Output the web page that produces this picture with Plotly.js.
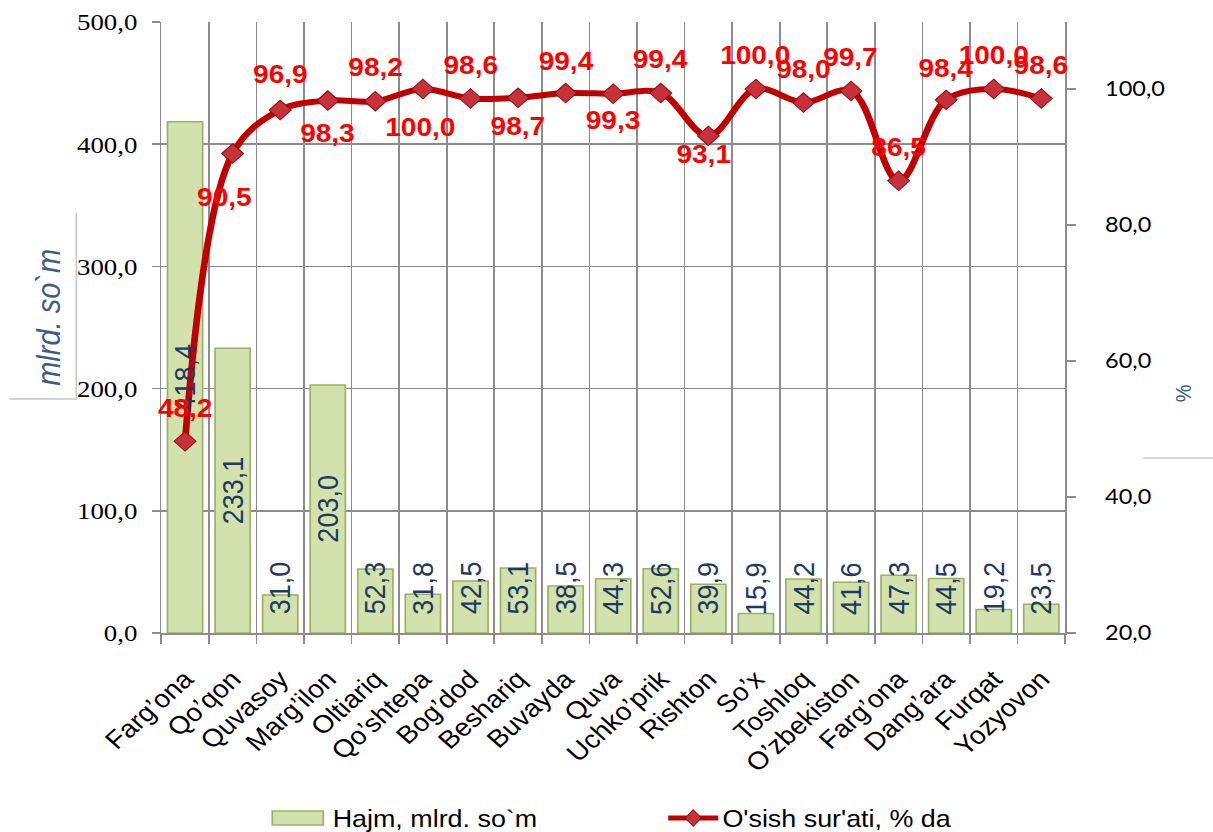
<!DOCTYPE html>
<html>
<head>
<meta charset="utf-8">
<script src="https://cdn.plot.ly/plotly-3.0.1.min.js"></script>
<style>
  html, body { margin: 0; padding: 0; background: #ffffff; overflow: hidden; }
  #wrap { width: 1213px; height: 832px; overflow: hidden; }
  /* the reference picture is horizontally stretched; reproduce that */
  #chart { width: 1083px; height: 832px; transform: scaleX(1.12); transform-origin: 0 0; }
</style>
</head>
<body>
<div id="wrap"><div id="chart"></div></div>
<script>
// ---- data ----
const categories = ['Farg’ona','Qo’qon','Quvasoy','Marg’ilon','Oltiariq','Qo’shtepa','Bog’dod','Beshariq','Buvayda','Quva','Uchko’prik','Rishton','So’x','Toshloq','O’zbekiston','Farg’ona','Dang’ara','Furqat','Yozyovon'];
const volume = [418.4, 233.1, 31.0, 203.0, 52.3, 31.8, 42.5, 53.1, 38.5, 44.3, 52.6, 39.9, 15.9, 44.2, 41.6, 47.3, 44.5, 19.2, 23.5];
const growth = [48.2, 90.5, 96.9, 98.3, 98.2, 100.0, 98.6, 98.7, 99.4, 99.3, 99.4, 93.1, 100.0, 98.0, 99.7, 86.5, 98.4, 100.0, 98.6];
const leftTicks = [0, 100, 200, 300, 400, 500];
const rightTicks = [20, 40, 60, 80, 100];
const seriesNames = ['Hajm, mlrd. so`m', "O'sish sur'ati, % da"];

// ---- label placement (style, not data) ----
const growthLabelDy = [33, -43, 36, -32, 34, -38, 34, -28, 32, -26, 34, -18, 34, 34, 34, 34, 32, 34, 34];
const growthLabelDx = [0, -7, 0, 0, 0, -2, 0, 0, 0, 0, 0, -4, 0, 0, 0, 0, 0, 0, 0];
const barLabelMin = 36.8; // keep short-bar labels inside the plot

const fmt = v => v.toFixed(1).replace('.', ',');
const idx = categories.map((c, i) => i);
const bounds = categories.concat(['']).map((c, i) => i - 0.5);

const SANS = "'Liberation Sans', Arial, sans-serif";
const SERIF = "'Liberation Serif', 'Times New Roman', serif";
const BAR_FILL = '#D3E2AD', BAR_EDGE = '#9DAE69';
const LINE_COL = '#C00000', MARK_FILL = '#C8303A', MARK_EDGE = '#8E0F14';

const traces = [
  {
    type: 'bar', name: seriesNames[0], x: idx, y: volume, yaxis: 'y',
    marker: { color: BAR_FILL, line: { color: BAR_EDGE, width: 1.5 } },
    hoverinfo: 'y', showlegend: false
  },
  {
    type: 'scatter', mode: 'lines+markers', name: seriesNames[1], x: idx, y: growth, yaxis: 'y2',
    line: { color: LINE_COL, width: 6, shape: 'spline', smoothing: 1 },
    marker: { symbol: 'diamond', size: 15, color: MARK_FILL, line: { color: MARK_EDGE, width: 1 } },
    hoverinfo: 'y', showlegend: false
  }
];

const annotations = [];
volume.forEach((v, i) => {
  annotations.push({
    x: i, y: Math.max(v / 2, barLabelMin), xref: 'x', yref: 'y',
    text: fmt(v), textangle: -90, showarrow: false,
    xanchor: 'center', yanchor: 'middle',
    font: { family: SANS, size: 27, color: '#1F3A60' }
  });
});
growth.forEach((g, i) => {
  annotations.push({
    x: i, y: g, xref: 'x', yref: 'y2',
    text: '<b>' + fmt(g) + '</b>', showarrow: false,
    xanchor: 'center', yanchor: 'middle',
    xshift: growthLabelDx[i], yshift: growthLabelDy[i],
    font: { family: SANS, size: 25, color: '#FF0000' }
  });
});
// axis titles
annotations.push({
  xref: 'paper', yref: 'paper', x: -0.125, y: 0.516, text: 'mlrd. so`m',
  textangle: -90, showarrow: false, xanchor: 'center', yanchor: 'middle',
  font: { family: SANS, size: 29, color: '#3F5C85', style: 'italic' }
});
annotations.push({
  xref: 'paper', yref: 'paper', x: 1.1305, y: 0.393, text: '%',
  textangle: -90, showarrow: false, xanchor: 'center', yanchor: 'middle',
  font: { family: SANS, size: 20, color: '#3F5C85' }
});
// legend texts
annotations.push({
  xref: 'paper', yref: 'paper', x: 0.1869, y: -0.3028, text: seriesNames[0],
  showarrow: false, xanchor: 'left', yanchor: 'middle',
  font: { family: SANS, size: 24, color: '#000000' }
});
annotations.push({
  xref: 'paper', yref: 'paper', x: 0.6184, y: -0.3028, text: seriesNames[1],
  showarrow: false, xanchor: 'left', yanchor: 'middle',
  font: { family: SANS, size: 24, color: '#000000' }
});

const dcx = 0.5885, dcy = -0.3028, dhw = 0.0088, dhh = 0.0135;
const shapes = [
  { type: 'path', xref: 'paper', yref: 'paper',
    path: 'M -0.1681 0.3830 L -0.0940 0.3830 L -0.0940 0.6874',
    line: { color: '#C8C8C8', width: 1.5 } },
  { type: 'line', xref: 'paper', yref: 'paper', x0: 1.0863, x1: 1.1637, y0: 0.2864, y1: 0.2864,
    line: { color: '#C8C8C8', width: 1.5 } },
  // legend swatches
  { type: 'rect', xref: 'paper', yref: 'paper', x0: 0.1228, x1: 0.1792, y0: -0.3142, y1: -0.2913,
    fillcolor: BAR_FILL, line: { color: BAR_EDGE, width: 1.5 } },
  { type: 'line', xref: 'paper', yref: 'paper', x0: 0.5608, x1: 0.6162, y0: dcy, y1: dcy,
    line: { color: LINE_COL, width: 5 } },
  { type: 'path', xref: 'paper', yref: 'paper',
    path: 'M ' + (dcx - dhw) + ' ' + dcy + ' L ' + dcx + ' ' + (dcy + dhh) + ' L ' + (dcx + dhw) + ' ' + dcy +
          ' L ' + dcx + ' ' + (dcy - dhh) + ' Z',
    fillcolor: MARK_FILL, line: { color: MARK_EDGE, width: 1 } }
];

const layout = {
  width: 1083, height: 832,
  margin: { l: 143.75, r: 132.1, t: 22, b: 199 },
  paper_bgcolor: '#ffffff', plot_bgcolor: '#ffffff',
  separators: ',.',
  bargap: 0.26,
  showlegend: false,
  xaxis: {
    range: [-0.5, categories.length - 0.5],
    tickmode: 'array', tickvals: idx, ticktext: categories,
    tickangle: -45, ticks: '', showgrid: false,
    tickfont: { family: SANS, size: 25, color: '#000000' },
    showline: true, linecolor: '#8C8C8C', linewidth: 1.5,
    ticklabelstandoff: 20,
    minor: { tickmode: 'array', tickvals: bounds, ticks: 'outside', ticklen: 9,
             tickcolor: '#8C8C8C', tickwidth: 1.5, showgrid: true,
             gridcolor: '#8C8C8C', gridwidth: 1.5 },
    zeroline: false, fixedrange: true, automargin: false
  },
  yaxis: {
    range: [0, 500], tickmode: 'array', tickvals: leftTicks, tickformat: '.1f',
    ticks: 'outside', ticklen: 7, tickcolor: '#8C8C8C', tickwidth: 1.5,
    showgrid: true, gridcolor: '#8C8C8C', gridwidth: 1.5,
    showline: true, linecolor: '#8C8C8C', linewidth: 1.5,
    tickfont: { family: SERIF, size: 24, color: '#000000' },
    ticklabelstandoff: 8,
    zeroline: false, fixedrange: true, automargin: false
  },
  yaxis2: {
    overlaying: 'y', side: 'right',
    range: [20, 109.85], tickmode: 'array', tickvals: rightTicks, tickformat: '.1f',
    ticks: 'outside', ticklen: 8, tickcolor: '#8C8C8C', tickwidth: 1.5,
    showgrid: false, showline: true, linecolor: '#8C8C8C', linewidth: 1.5,
    tickfont: { family: "Lato, 'Open Sans', sans-serif", size: 21, color: '#000000' },
    ticklabelstandoff: 22,
    zeroline: false, fixedrange: true, automargin: false
  },
  annotations: annotations,
  shapes: shapes
};

Plotly.newPlot('chart', traces, layout, { displayModeBar: false, staticPlot: true });
</script>
</body>
</html>
